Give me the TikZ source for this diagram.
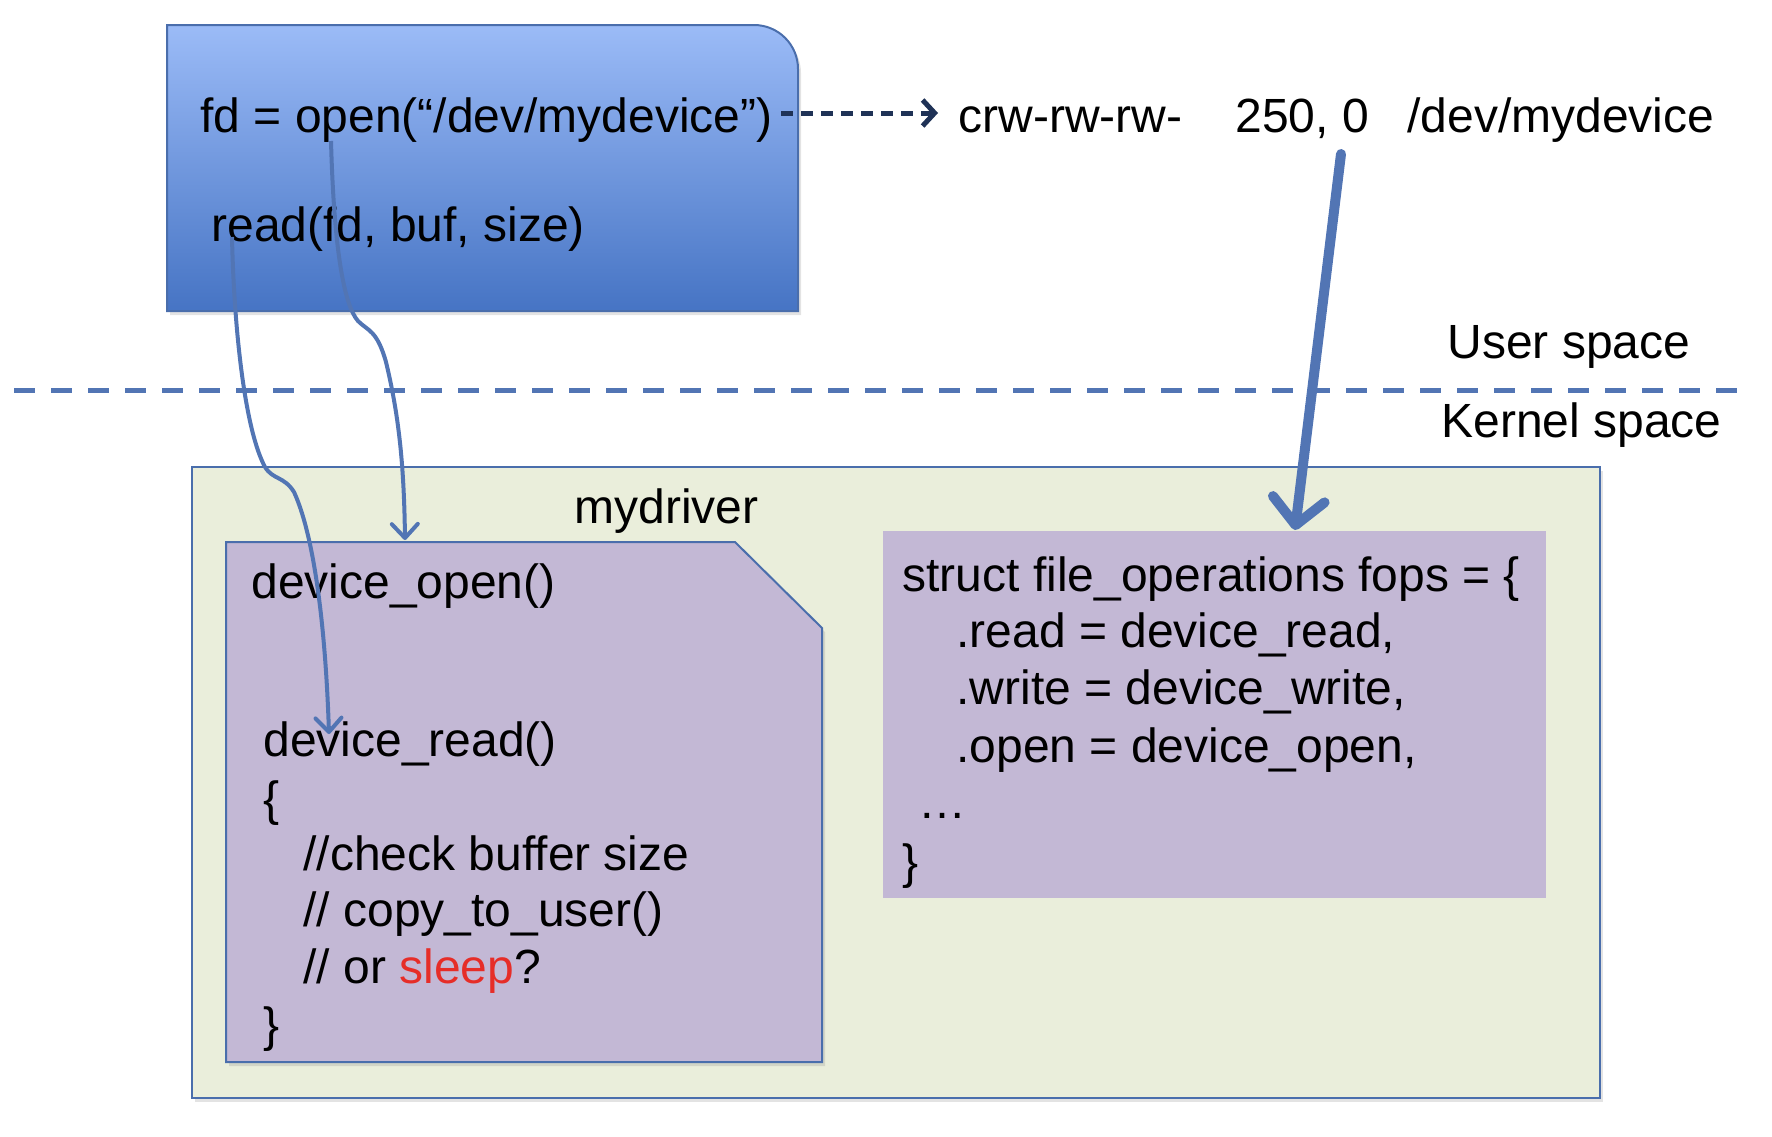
\documentclass[tikz,border=0pt]{standalone}
\usepackage{fontspec}
\setmainfont{Liberation Sans}
\usetikzlibrary{arrows.meta,shadows}
\definecolor{userTop}{RGB}{155,187,247}
\definecolor{userBot}{RGB}{70,116,196}
\definecolor{edgeBlue}{RGB}{74,110,172}
\definecolor{linkBlue}{RGB}{82,117,180}
\definecolor{kernGreen}{RGB}{234,238,219}
\definecolor{funcPurple}{RGB}{195,184,213}
\definecolor{navyDash}{RGB}{31,50,86}
\definecolor{sleepRed}{RGB}{230,45,40}
\newcommand{\bigtext}{\fontsize{24}{29}\selectfont}
\begin{document}
\begin{tikzpicture}[x=0.5pt,y=-0.5pt,
  txt/.style={font=\bigtext, inner sep=0pt, anchor=base west, text=black},
  softshadow/.style={drop shadow={opacity=0.22, shadow xshift=1.5pt, shadow yshift=-2pt}},
  thinlink/.style={draw=linkBlue, line width=2pt, -{Straight Barb[length=7pt,width=13pt,round]}},
  thicklink/.style={draw=linkBlue, line width=5pt, line cap=round, -{Straight Barb[length=13pt,width=26pt,round]}},
  devlink/.style={draw=navyDash, line width=2.5pt, dash pattern=on 6pt off 4pt, -{Straight Barb[length=6pt,width=13pt]}},
  separator/.style={draw=linkBlue, line width=2.5pt, dash pattern=on 10.5pt off 8pt}
]
\useasboundingbox (0,0) rectangle (1772,1136);

% user program box
\path[draw=edgeBlue, line width=1pt, top color=userTop, bottom color=userBot, softshadow]
  (167,311) -- (167,25) [rounded corners=22pt] -- (798,25) [sharp corners] -- (798,311) -- cycle;
\node[txt] (fdopen) at (200,132) {fd = open(“/dev/mydevice”)};
\node[txt] (readcall) at (211,241) {read(fd, buf, size)};

% device file line
\node[txt] (perm) at (958,132) {crw-rw-rw-};
\node[txt] (majmin) at (1235,132) {250, 0};
\node[txt] (devpath) at (1407,132) {/dev/mydevice};

% user / kernel separation
\node[txt] (userspace) at (1447,358) {User space};
\node[txt] (kernelspace) at (1441,437) {Kernel space};
\path[separator] (14,390) -- (1746,390);

% kernel module box
\path[draw=edgeBlue, line width=1pt, fill=kernGreen, softshadow] (192,467) rectangle (1600,1098);
\node[txt] (mydriver) at (574,523) {mydriver};

% left function box with cut corner
\path[draw=edgeBlue, line width=1pt, fill=funcPurple, softshadow]
  (226,542) -- (735,542) -- (822,628) -- (822,1062) -- (226,1062) -- cycle;
\node[txt] (devopen) at (251,598) {device\_open()};
\node[txt] (devread) at (263,756) {device\_read()};
\node[txt] (lbrace) at (263,815) {\{};
\node[txt] (chk) at (303,870) {//check buffer size};
\node[txt] (cpy) at (303,926) {// copy\_to\_user()};
\node[txt] (orsleep) at (303,983) {// or \textcolor{sleepRed}{sleep}?};
\node[txt] (rbrace) at (263,1041) {\}};

% fops box
\path[fill=funcPurple] (883,531) rectangle (1546,898);
\node[txt] (fops) at (902,591) {struct file\_operations fops = \{};
\node[txt] (fread) at (956,647) {.read = device\_read,};
\node[txt] (fwrite) at (956,704) {.write = device\_write,};
\node[txt] (fopen) at (956,762) {.open = device\_open,};
\node[txt] (fdots) at (918,818) {…};
\node[txt] (fclose) at (902,878) {\}};

% connector end points
\coordinate (devArrowStart) at (781,113);
\coordinate (devArrowEnd) at (938,113);
\coordinate (openStart) at (331,141);
\coordinate (openEnd) at (405,540);
\coordinate (readStart) at (232,237);
\coordinate (readEnd) at (329,734);
\coordinate (majStart) at (1341,154);
\coordinate (fopsTop) at (1295,530);

% connectors
\draw[devlink] (devArrowStart) -- (devArrowEnd);
\draw[thinlink] (openStart) .. controls (334,250) and (344,305) .. (358,321)
  .. controls (368,331) and (377,330) .. (386,362)
  .. controls (398,412) and (404,460) .. (openEnd);
\draw[thinlink] (readStart) .. controls (234,330) and (245,430) .. (265,467)
  .. controls (273,480) and (284,476) .. (294,492)
  .. controls (316,540) and (326,640) .. (readEnd);
\draw[thicklink] (majStart) -- (fopsTop);
\end{tikzpicture}
\end{document}
